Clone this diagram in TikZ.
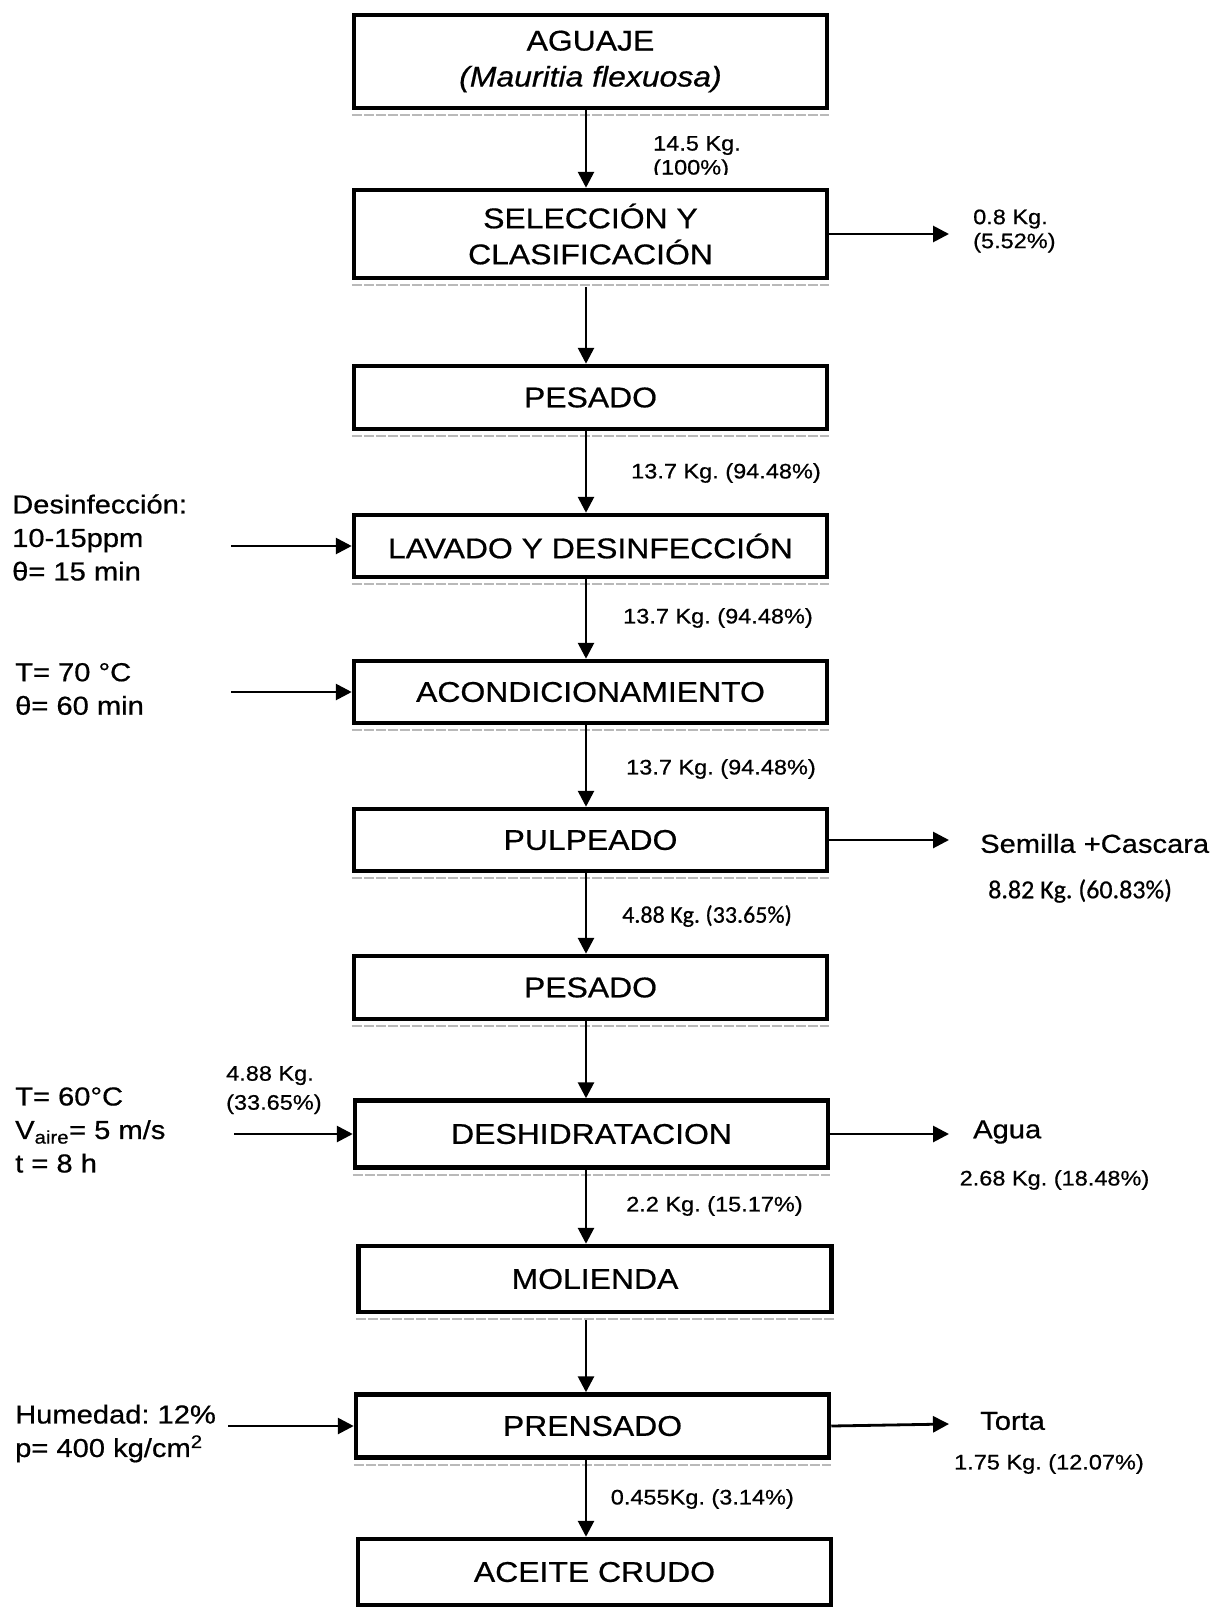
\documentclass[tikz,border=0pt]{standalone}
\usepackage{fontspec}
\setmainfont{Liberation Sans}[FakeStretch=1.12,FakeBold=0.6]
\newfontfamily\calfont{Carlito}[FakeBold=0.6]
\usetikzlibrary{arrows.meta}
\newcommand\bxfont{\fontsize{28.5}{36}\selectfont}
\newcommand\smfont{\fontsize{21}{24}\selectfont}
\newcommand\sdfont{\fontsize{26}{33.5}\selectfont}
\newcommand\cafont{\calfont\fontsize{24}{28}\selectfont}
\frenchspacing
\begin{document}
\begin{tikzpicture}[x=1pt,y=-1pt,
 box/.style={draw, line width=4.5pt, fill=white, minimum width=473pt, inner sep=0pt, align=center, font=\bxfont},
 arr/.style={line width=2.8pt, -{Triangle[length=16pt,width=16pt]}},
 shade/.style={gray!55, line width=2pt, dash pattern=on 10pt off 2pt},
 sm/.style={font=\smfont, anchor=west, inner sep=0pt, align=left},
 sd/.style={font=\sdfont, anchor=west, inner sep=0pt, align=left},
 ca/.style={font=\cafont, anchor=west, inner sep=0pt}]
\useasboundingbox (0,0) rectangle (1212,1609);
\fill[white] (0,0) rectangle (1212,1609);

% label partly hidden behind box 2
\begin{scope}
\clip (640,120) rectangle (800,174);
\node[sm] (l12) at (653,157.5) {14.5 Kg.\\(100\%)};
\end{scope}

% process boxes
\node[box, minimum height=93pt] (b1) at (590.5,61.5) {AGUAJE\\\textit{(Mauritia flexuosa)}};
\node[box, minimum height=88pt] (b2) at (590.5,234) {SELECCIÓN Y\\CLASIFICACIÓN};
\node[box, minimum height=63pt] (b3) at (590.5,397.5) {PESADO};
\node[box, minimum height=62pt] (b4) at (590.5,546) {LAVADO Y DESINFECCIÓN};
\node[box, minimum height=62pt] (b5) at (590.5,692) {ACONDICIONAMIENTO};
\node[box, minimum height=62pt] (b6) at (590.5,840) {PULPEADO};
\node[box, minimum height=63pt] (b7) at (590.5,987.5) {PESADO};
\node[box, minimum height=67pt] (b8) at (591.5,1134) {DESHIDRATACION};
\node[box, minimum height=66pt] (b9) at (595,1279) {MOLIENDA};
\node[box, minimum height=63pt] (b10) at (592.5,1426) {PRENSADO};
\node[box, minimum height=66pt] (b11) at (594.5,1572) {ACEITE CRUDO};

% faint scan shadow under the boxes
\foreach \b in {b1,b2,b3,b4,b5,b6,b7,b8,b9,b10}
  \draw[shade] ([yshift=-5pt]\b.south west) -- ([yshift=-5pt]\b.south east);

% vertical flow
\coordinate (ax) at (586,0);
\draw[arr] (b1.south -| ax) -- (b2.north -| ax);
\draw[arr, shorten <=7pt] (b2.south -| ax) -- (b3.north -| ax);
\draw[arr] (b3.south -| ax) -- (b4.north -| ax);
\draw[arr] (b4.south -| ax) -- (b5.north -| ax);
\draw[arr] (b5.south -| ax) -- (b6.north -| ax);
\draw[arr] (b6.south -| ax) -- (b7.north -| ax);
\draw[arr] (b7.south -| ax) -- (b8.north -| ax);
\draw[arr] (b8.south -| ax) -- (b9.north -| ax);
\draw[arr, shorten <=6pt] (b9.south -| ax) -- (b10.north -| ax);
\draw[arr] (b10.south -| ax) -- (b11.north -| ax);

% flow labels
\node[sm] (m3) at (631,473) {13.7 Kg. (94.48\%)};
\node[sm] (m4) at (623,618) {13.7 Kg. (94.48\%)};
\node[sm] (m5) at (626,769) {13.7 Kg. (94.48\%)};
\node[ca] (m6) at (622,916) {4.88 Kg. (33.65\%)};
\node[sm] (m8) at (626,1206) {2.2 Kg. (15.17\%)};
\node[sm] (m10) at (610.6,1499) {0.455Kg. (3.14\%)};

% outputs (right)
\coordinate (r2) at (949,234); \draw[arr] (b2.east) -- (r2);
\node[sm] (t2) at (973,231) {0.8 Kg.\\(5.52\%)};
\coordinate (r6) at (949,840); \draw[arr] (b6.east) -- (r6);
\node[sd] (t6) at (980,843.5) {Semilla +Cascara};
\node[ca, font=\calfont\fontsize{26}{30}\selectfont] (t6b) at (988,891) {8.82 Kg. (60.83\%)};
\coordinate (r8) at (949,1134); \draw[arr] (b8.east) -- (r8);
\node[sd] (t8) at (973,1132) {Agua};
\node[sm] (t8b) at (959.5,1180) {2.68 Kg. (18.48\%)};
\coordinate (r10) at (949,1424); \draw[arr] (b10.east) -- (r10);
\node[sd] (t10) at (980,1421) {Torta};
\node[sm] (t10b) at (954,1464) {1.75 Kg. (12.07\%)};

% inputs (left)
\coordinate (l4) at (231,546); \draw[arr] (l4) -- (b4.west);
\node[sd] (s4) at (12,537.5) {Desinfección:\\10-15ppm\\θ= 15 min};
\coordinate (l5) at (231,692); \draw[arr] (l5) -- (b5.west);
\node[sd] (s5) at (15,689) {T= 70 °C\\θ= 60 min};
\coordinate (l8) at (234,1134); \draw[arr] (l8) -- (b8.west);
\node[sm, font=\fontsize{21}{29}\selectfont] (s8a) at (226,1090) {4.88 Kg.\\(33.65\%)};
\node[sd] (s8) at (15,1130) {T= 60°C\\V\textsubscript{aire}= 5 m/s\\t = 8 h};
\coordinate (l10) at (228,1426); \draw[arr] (l10) -- (b10.west);
\node[sd] (s10) at (15,1433.5) {Humedad: 12\%\\p= 400 kg/cm\textsuperscript{2}};
\end{tikzpicture}
\end{document}
